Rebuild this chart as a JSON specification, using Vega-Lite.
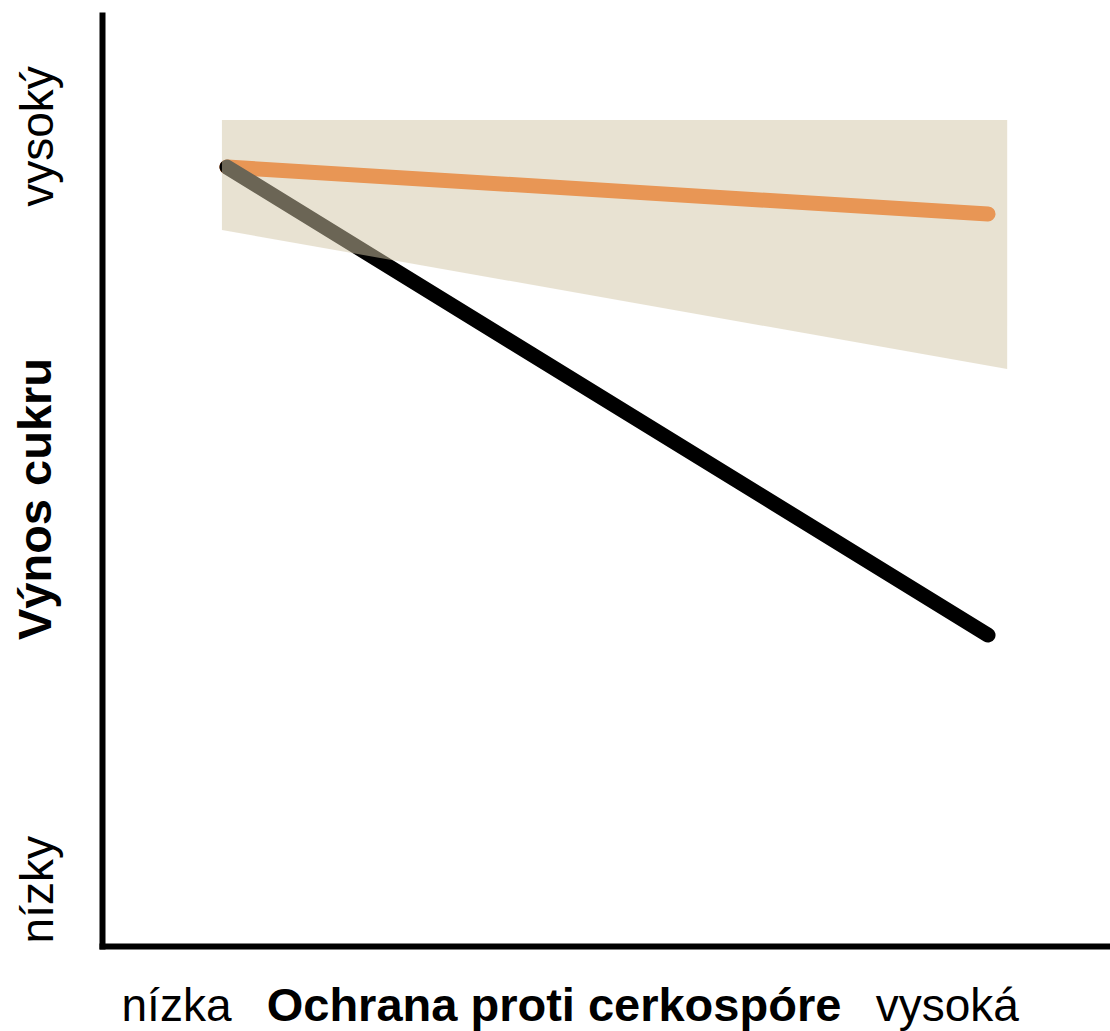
{
  "$schema": "https://vega.github.io/schema/vega-lite/v6.json",
  "width": 1008,
  "height": 931,
  "autosize": {"type": "none"},
  "padding": {"left": 102, "top": 15, "right": 0, "bottom": 85},
  "background": "white",
  "config": {
    "view": {"stroke": null},
    "font": "Liberation Sans",
    "axis": {
      "grid": false,
      "ticks": false,
      "tickSize": 0,
      "domain": true,
      "domainColor": "black",
      "domainWidth": 6,
      "domainCap": "square",
      "labelFont": "Liberation Sans",
      "labelFontSize": 46,
      "labelColor": "black",
      "labelOverlap": false,
      "labelBound": false,
      "labelFlush": false,
      "titleFont": "Liberation Sans",
      "titleFontSize": 47,
      "titleFontWeight": "bold",
      "titleColor": "black"
    }
  },
  "datasets": {
    "lines": [
      {"odroda": "citlivá", "ochrana": 12.4, "vynos": 83.67},
      {"odroda": "citlivá", "ochrana": 87.9, "vynos": 33.4},
      {"odroda": "tolerantná", "ochrana": 12.4, "vynos": 83.67},
      {"odroda": "tolerantná", "ochrana": 87.9, "vynos": 78.63}
    ],
    "band": [
      {"ochrana": 11.9, "dolna": 76.91, "horna": 88.72},
      {"ochrana": 89.8, "dolna": 61.98, "horna": 88.72}
    ]
  },
  "encoding": {
    "x": {
      "field": "ochrana",
      "type": "quantitative",
      "scale": {"domain": [0, 100], "nice": false, "zero": false},
      "axis": {
        "orient": "bottom",
        "values": [7.34, 83.8],
        "labelExpr": "datum.value < 50 ? 'nízka' : 'vysoká'",
        "labelPadding": 74,
        "labelBaseline": "alphabetic",
        "labelAlign": "center",
        "title": "Ochrana proti cerkospóre",
        "titleX": 451.5,
        "titleY": 74,
        "titleBaseline": "alphabetic",
        "titleAlign": "center",
        "titleAnchor": null
      }
    },
    "y": {
      "field": "vynos",
      "type": "quantitative",
      "scale": {"domain": [0, 100], "nice": false, "zero": false},
      "axis": {
        "orient": "left",
        "values": [6.1, 87.0],
        "labelExpr": "datum.value < 50 ? 'nízky' : 'vysoký'",
        "labelAngle": -90,
        "labelAlign": "center",
        "labelBaseline": "alphabetic",
        "labelPadding": 50,
        "title": "Výnos cukru",
        "titleAngle": -90,
        "titleX": -52,
        "titleY": 483.5,
        "titleBaseline": "alphabetic",
        "titleAlign": "center",
        "titleAnchor": null
      }
    }
  },
  "layer": [
    {
      "data": {"name": "lines"},
      "transform": [{"filter": "datum.odroda === 'tolerantná'"}],
      "mark": {"type": "line", "color": "#FF6400", "strokeWidth": 15, "strokeCap": "round"},
      "encoding": {}
    },
    {
      "data": {"name": "lines"},
      "transform": [{"filter": "datum.odroda === 'citlivá'"}],
      "mark": {"type": "line", "color": "black", "strokeWidth": 15, "strokeCap": "round"},
      "encoding": {}
    },
    {
      "data": {"name": "band"},
      "mark": {"type": "area", "color": "#D2C6A7", "opacity": 0.51},
      "encoding": {
        "y": {"field": "dolna", "type": "quantitative"},
        "y2": {"field": "horna"}
      }
    }
  ]
}
